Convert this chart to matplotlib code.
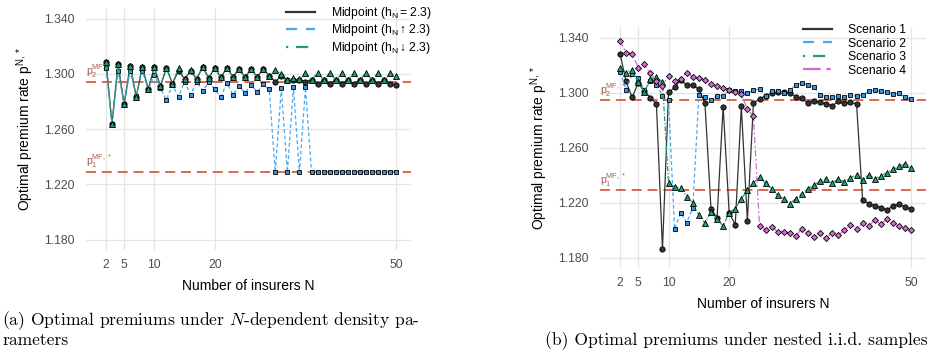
import numpy as np
import matplotlib
matplotlib.use("Agg")
import matplotlib.pyplot as plt
from matplotlib.lines import Line2D

plt.rcParams['font.family'] = ['Liberation Sans', 'DejaVu Sans']
plt.rcParams['mathtext.fontset'] = 'dejavusans'

# ---- data -------------------------------------------------------------
n_ins = np.arange(2, 51)

# panel (a): N-dependent density parameters
mid_eq = [1.309, 1.264, 1.307, 1.278, 1.306, 1.2835, 1.305, 1.289, 1.305, 1.291,
          1.3045, 1.293, 1.3025, 1.2965, 1.302, 1.2965, 1.305, 1.297, 1.3045, 1.2975,
          1.3045, 1.298, 1.3036, 1.2975, 1.3036, 1.298, 1.3036, 1.2988, 1.2945, 1.2985,
          1.2954, 1.2955, 1.2958, 1.2945, 1.2957, 1.2925, 1.2957, 1.2927, 1.2957, 1.2928,
          1.2957, 1.2929, 1.2957, 1.293, 1.2957, 1.293, 1.2957, 1.2931, 1.2922]
mid_up = [1.3041, 1.264, 1.3024, 1.278, 1.3022, 1.2842, 1.3022, 1.2884, 1.2993, 1.2896,
          1.2811, 1.292, 1.2835, 1.2945, 1.285, 1.2944, 1.2878, 1.294, 1.2889, 1.2835,
          1.2935, 1.2848, 1.2912, 1.2865, 1.292, 1.287, 1.2924, 1.2889, 1.2288, 1.2896,
          1.2288, 1.2903, 1.2288, 1.2903, 1.2288, 1.2288, 1.2288, 1.2288, 1.2288, 1.2288,
          1.2288, 1.2288, 1.2288, 1.2288, 1.2288, 1.2288, 1.2288, 1.2288, 1.2288]
mid_down = [1.309, 1.264, 1.307, 1.278, 1.306, 1.2835, 1.305, 1.289, 1.305, 1.291,
            1.3045, 1.293, 1.3045, 1.2965, 1.303, 1.2965, 1.305, 1.297, 1.3045, 1.2975,
            1.3045, 1.298, 1.3036, 1.2975, 1.3036, 1.298, 1.3036, 1.2988, 1.3029, 1.300,
            1.2954, 1.2968, 1.2961, 1.3005, 1.296, 1.3005, 1.296, 1.3005, 1.296, 1.3005,
            1.296, 1.3005, 1.296, 1.3005, 1.296, 1.3005, 1.296, 1.3005, 1.2986]

# panel (b): nested i.i.d. samples
scen1 = [1.3285, 1.3082, 1.2966, 1.307, 1.3015, 1.2964, 1.292, 1.186, 1.3002, 1.3038,
         1.3094, 1.3055, 1.3055, 1.3026, 1.2925, 1.2157, 1.209, 1.2899, 1.2125, 1.2041,
         1.2901, 1.2070, 1.2925, 1.2954, 1.2978, 1.2995, 1.3003, 1.3003, 1.3, 1.2971,
         1.2959, 1.2923, 1.2942, 1.293, 1.2918, 1.2906, 1.2937, 1.2923, 1.293, 1.2918,
         1.2218, 1.2194, 1.2177, 1.2165, 1.2146, 1.2177, 1.2189, 1.217, 1.2152]
scen2 = [1.3152, 1.3022, 1.3135, 1.3105, 1.3017, 1.3087, 1.3058, 1.2978, 1.2947, 1.2008,
         1.2128, 1.2055, 1.2164, 1.2985, 1.2966, 1.2949, 1.2978, 1.2978, 1.3019, 1.3009,
         1.3009, 1.2995, 1.3019, 1.3026, 1.2978, 1.3009, 1.3014, 1.2997, 1.3019, 1.3058,
         1.307, 1.3058, 1.3038, 1.2985, 1.2971, 1.2966, 1.2973, 1.2966, 1.2985, 1.2973,
         1.2985, 1.3009, 1.3019, 1.3009, 1.3002, 1.299, 1.2995, 1.2966, 1.2957]
scen3 = [1.3178, 1.3147, 1.3167, 1.3075, 1.3002, 1.3099, 1.3116, 1.3075, 1.2341, 1.2317,
         1.2305, 1.2245, 1.2196, 1.2112, 1.2051, 1.2134, 1.2085, 1.2030, 1.2128, 1.2157,
         1.223, 1.229, 1.2343, 1.2387, 1.2343, 1.2302, 1.2254, 1.223, 1.2193, 1.223,
         1.2266, 1.2302, 1.2327, 1.2358, 1.2374, 1.2343, 1.2374, 1.235, 1.2382, 1.2403,
         1.2367, 1.2403, 1.2374, 1.2394, 1.2418, 1.2442, 1.2464, 1.2483, 1.2454]
scen4 = [1.3377, 1.3292, 1.3285, 1.3183, 1.3207, 1.314, 1.3087, 1.3051, 1.3123, 1.3087,
         1.3099, 1.3147, 1.3116, 1.3104, 1.3094, 1.3067, 1.3046, 1.3033, 1.3019, 1.3002,
         1.299, 1.2881, 1.2828, 1.2032, 1.2005, 1.2025, 1.1988, 1.1988, 1.1976, 1.196,
         1.2012, 1.1976, 1.1952, 1.1976, 1.1945, 1.1981, 1.1962, 1.2001, 1.2041, 1.2012,
         1.2049, 1.203, 1.2073, 1.2044, 1.208, 1.2054, 1.2032, 1.2017, 1.2005]

p1_mf = 1.2290
p2_mf = 1.2944

x_ticks = [2, 5, 10, 20, 50]
y_ticks = [1.180, 1.220, 1.260, 1.300, 1.340]

# ---- styles -----------------------------------------------------------
C_BLACK = '#333333'
C_BLUE = '#4AA8F0'
C_BLUE_F = '#3D93DA'
C_GREEN = '#1E9E75'
C_MAG = '#D66BD6'
C_RED = '#D2522E'
C_LAB = '#A65A4A'

DASHED = (5, 4)
DOTDASH = (1, 3.5, 5.5, 3.5)
TWODASH = (8, 2.5, 2, 2.5)

fig = plt.figure(figsize=(9.32, 3.55), dpi=100)
ax1 = fig.add_axes([86/932, 1-250/355, 325/932, 242/355])
ax2 = fig.add_axes([600/932, 1-268/355, 326/932, 241/355])


def style_axis(ax):
    ax.set_xlim(-1.3, 52.45)
    ax.set_ylim(1.1725, 1.3478)
    ax.set_xticks(x_ticks)
    ax.set_yticks(y_ticks)
    ax.set_yticklabels([f'{v:.3f}' for v in y_ticks])
    ax.grid(True, color='#E5E5E5', linewidth=0.9)
    ax.set_axisbelow(True)
    for s in ax.spines.values():
        s.set_visible(False)
    ax.tick_params(length=0, labelsize=8.8, labelcolor='#4D4D4D')
    ax.tick_params(axis='y', pad=8.0)
    ax.tick_params(axis='x', pad=6.5)
    ax.set_xlabel('Number of insurers N', fontsize=10, labelpad=6)
    ax.set_ylabel(r'Optimal premium rate $\mathregular{p^{N,*}}$', fontsize=10, labelpad=6)
    ax.axhline(p2_mf, color=C_RED, lw=1.2, dashes=(6, 3.5), zorder=1.5)
    ax.axhline(p1_mf, color=C_RED, lw=1.2, dashes=(6, 3.5), zorder=1.5)
    ax.text(-1.3, p2_mf + 0.0012, r'$\mathregular{p_2^{MF,*}}$', color=C_LAB,
            fontsize=7.5, ha='left', va='bottom')
    ax.text(-1.3, p1_mf + 0.0012, r'$\mathregular{p_1^{MF,*}}$', color=C_LAB,
            fontsize=7.5, ha='left', va='bottom')


def series(ax, y, color, dash, marker, fc, ms, z):
    if dash is None:
        ax.plot(n_ins, y, color=color, lw=0.9, zorder=z)
    else:
        ax.plot(n_ins, y, color=color, lw=0.9, zorder=z, dashes=dash)
    ax.plot(n_ins, y, ls='none', marker=marker, ms=ms, mfc=fc, mec='black',
            mew=0.6, zorder=z + 0.5)


def handle(color, dash):
    if dash is None:
        return Line2D([], [], color=color, lw=1.6)
    return Line2D([], [], color=color, lw=1.6, dashes=dash)


style_axis(ax1)
series(ax1, mid_eq, C_BLACK, None, 'o', C_BLACK, 3.8, 2)
series(ax1, mid_up, C_BLUE, (3, 2), 's', C_BLUE_F, 3.4, 3)
series(ax1, mid_down, C_GREEN, (1, 1.5, 4, 1.5), '^', C_GREEN, 4.3, 4)

h_a = [handle(C_BLACK, None), handle(C_BLUE, DASHED), handle(C_GREEN, DOTDASH)]
l_a = [r'Midpoint ($\mathregular{h_N = 2.3}$)',
       r'Midpoint ($\mathregular{h_N \uparrow 2.3}$)',
       r'Midpoint ($\mathregular{h_N \downarrow 2.3}$)']
fig.legend(h_a, l_a, loc='upper left', bbox_to_anchor=(286/932, 1-5/355),
           frameon=False, fontsize=8.7, handlelength=2.4, handletextpad=1.3,
           labelspacing=0.12, borderpad=0, borderaxespad=0)

style_axis(ax2)
series(ax2, scen1, C_BLACK, None, 'o', C_BLACK, 3.8, 2)
series(ax2, scen2, C_BLUE, (3, 2), 's', C_BLUE_F, 3.4, 3)
series(ax2, scen3, C_GREEN, (1, 1.5, 4, 1.5), '^', C_GREEN, 4.3, 4)
series(ax2, scen4, C_MAG, (5, 2, 1.5, 2), 'D', C_MAG, 3.1, 5)

h_b = [handle(C_BLACK, None), handle(C_BLUE, DASHED),
       handle(C_GREEN, DOTDASH), handle(C_MAG, TWODASH)]
l_b = ['Scenario 1', 'Scenario 2', 'Scenario 3', 'Scenario 4']
fig.legend(h_b, l_b, loc='upper left', bbox_to_anchor=(803/932, 1-24/355),
           frameon=False, fontsize=8.7, handlelength=2.4, handletextpad=1.3,
           labelspacing=0.13, borderpad=0, borderaxespad=0)

# captions (LaTeX-like serif)
cap = dict(fontsize=12.6, family='cmr10', math_fontfamily='cm')
fig.text(2/932, 1-321/355, r'(a) Optimal premiums under $N$-dependent density pa-',
         va='center', ha='left', **cap)
fig.text(2/932, 1-340/355, 'rameters', va='center', ha='left', **cap)
fig.text(928/932, 1-341/355, '(b) Optimal premiums under nested i.i.d. samples',
         va='center', ha='right', **cap)

fig.savefig('out.png', dpi=100)
